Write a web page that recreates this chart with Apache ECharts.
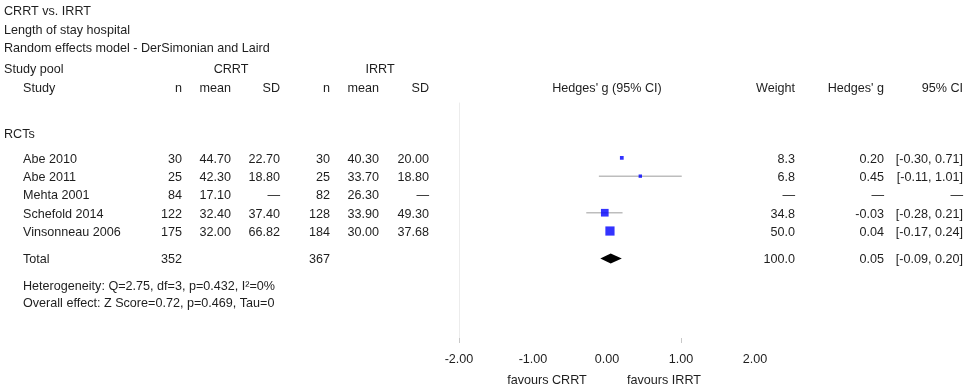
<!DOCTYPE html>
<html>
<head>
<meta charset="utf-8">
<script src="https://cdn.jsdelivr.net/npm/echarts@6/dist/echarts.min.js"></script>
<style>
html,body{margin:0;padding:0;background:#fff;}
#chart{width:968px;height:390px;}
</style>
</head>
<body>
<div id="chart"></div>
<script>
// ---- data ----
const titleLines = ['CRRT vs. IRRT', 'Length of stay hospital', 'Random effects model - DerSimonian and Laird'];
const groupLabel = 'RCTs';
const studies = ['Abe 2010', 'Abe 2011', 'Mehta 2001', 'Schefold 2014', 'Vinsonneau 2006'];
const crrtN = [30, 25, 84, 122, 175];
const crrtMean = ['44.70', '42.30', '17.10', '32.40', '32.00'];
const crrtSD = ['22.70', '18.80', '—', '37.40', '66.82'];
const irrtN = [30, 25, 82, 128, 184];
const irrtMean = ['40.30', '33.70', '26.30', '33.90', '30.00'];
const irrtSD = ['20.00', '18.80', '—', '49.30', '37.68'];
const weights = [8.3, 6.8, null, 34.8, 50.0];
const hedgesG = [0.20, 0.45, null, -0.03, 0.04];
const ciLow = [-0.30, -0.11, null, -0.28, -0.17];
const ciHigh = [0.71, 1.01, null, 0.21, 0.24];
const whiskerShown = [false, true, false, true, false];
const totalN = [352, 367];
const totalWeight = 100.0;
const totalG = 0.05;
const totalCI = [-0.09, 0.20];
const statLines = ['Heterogeneity: Q=2.75, df=3, p=0.432, I²=0%', 'Overall effect: Z Score=0.72, p=0.469, Tau=0'];
const xTickValues = [-2, -1, 0, 1, 2];
const favourLabels = ['favours CRRT', 'favours IRRT'];

// ---- layout ----
const FONT = '12.6px "Liberation Sans", Arial, sans-serif';
const TXT = '#1e1e1e';
const DY = 1.5;
const rowIdx = [0, 1, 2, 3, 4];
const totalRow = 5.5;

const chart = echarts.init(document.getElementById('chart'), null, {renderer: 'canvas'});

const whiskerData = [];
const squareData = [];
rowIdx.forEach(function (r, i) {
  if (hedgesG[i] === null) return;
  if (whiskerShown[i]) whiskerData.push([ciLow[i], ciHigh[i], r]);
  squareData.push([hedgesG[i], r, weights[i]]);
});

chart.setOption({
  animation: false,
  grid: {left: 459, width: 296, top: 103, height: 235, containLabel: false},
  xAxis: {
    type: 'value', min: xTickValues[0], max: xTickValues[xTickValues.length - 1], interval: 1,
    axisLine: {show: false, onZero: false},
    axisTick: {show: true, customValues: [-2, 1], length: 5, lineStyle: {color: '#c8c8c8'}},
    axisLabel: {margin: 15, color: TXT, fontSize: 12.6, fontFamily: '"Liberation Sans", Arial, sans-serif',
      formatter: function (v) { return v.toFixed(2); }},
    splitLine: {show: false}
  },
  yAxis: {
    type: 'value', inverse: true, min: -3, max: 9.85,
    axisLine: {show: true, onZero: false, lineStyle: {color: '#ececec', width: 1}},
    axisTick: {show: false}, axisLabel: {show: false}, splitLine: {show: false}
  },
  series: [
    {
      type: 'custom', data: whiskerData, encode: {x: [0, 1], y: 2},
      renderItem: function (params, api) {
        const p1 = api.coord([api.value(0), api.value(2)]);
        const p2 = api.coord([api.value(1), api.value(2)]);
        return {type: 'line', shape: {x1: p1[0], y1: p1[1], x2: p2[0], y2: p2[1]},
          style: {stroke: '#bdbdbd', lineWidth: 1.5}};
      },
      z: 2
    },
    {
      type: 'scatter', data: squareData, symbol: 'rect',
      symbolSize: function (v) { return 1.3 * Math.sqrt(v[2]); },
      itemStyle: {color: '#0000ff'}, z: 3
    },
    {
      type: 'custom', data: [[totalG, totalCI[0], totalCI[1], totalRow]], encode: {x: [0, 1, 2], y: 3},
      renderItem: function (params, api) {
        const c = api.coord([api.value(0), api.value(3)]);
        const l = api.coord([api.value(1), api.value(3)]);
        const r = api.coord([api.value(2), api.value(3)]);
        return {type: 'polygon', shape: {points: [[l[0], c[1]], [c[0], c[1] - 5], [r[0], c[1]], [c[0], c[1] + 5]]},
          style: {fill: '#000'}};
      },
      z: 3
    }
  ]
});

function rowY(r) { return chart.convertToPixel({gridIndex: 0}, [0, r])[1]; }
function t(text, x, y, align) {
  return {type: 'text', x: x, y: y + DY, silent: true,
    style: {text: String(text), font: FONT, fill: TXT, textAlign: align || 'left', textVerticalAlign: 'middle'}};
}

const els = [];
titleLines.forEach(function (s, i) { els.push(t(s, 4, [10, 29, 47][i])); });
els.push(t('Study pool', 4, 68));
els.push(t('CRRT', 231, 68, 'center'));
els.push(t('IRRT', 380, 68, 'center'));
els.push(t('Study', 23, 87));
els.push(t('n', 182, 87, 'right'));
els.push(t('mean', 231, 87, 'right'));
els.push(t('SD', 280, 87, 'right'));
els.push(t('n', 330, 87, 'right'));
els.push(t('mean', 379, 87, 'right'));
els.push(t('SD', 429, 87, 'right'));
els.push(t("Hedges' g (95% CI)", 607, 87, 'center'));
els.push(t('Weight', 795, 87, 'right'));
els.push(t("Hedges' g", 884, 87, 'right'));
els.push(t('95% CI', 963, 87, 'right'));
els.push(t(groupLabel, 4, 133));

rowIdx.forEach(function (r, i) {
  const y = rowY(r);
  els.push(t(studies[i], 23, y));
  els.push(t(crrtN[i], 182, y, 'right'));
  els.push(t(crrtMean[i], 231, y, 'right'));
  els.push(t(crrtSD[i], 280, y, 'right'));
  els.push(t(irrtN[i], 330, y, 'right'));
  els.push(t(irrtMean[i], 379, y, 'right'));
  els.push(t(irrtSD[i], 429, y, 'right'));
  if (hedgesG[i] === null) {
    els.push(t('—', 795, y, 'right'));
    els.push(t('—', 884, y, 'right'));
    els.push(t('—', 963, y, 'right'));
  } else {
    els.push(t(weights[i].toFixed(1), 795, y, 'right'));
    els.push(t(hedgesG[i].toFixed(2), 884, y, 'right'));
    els.push(t('[' + ciLow[i].toFixed(2) + ', ' + ciHigh[i].toFixed(2) + ']', 963, y, 'right'));
  }
});

const ty = rowY(totalRow);
els.push(t('Total', 23, ty));
els.push(t(totalN[0], 182, ty, 'right'));
els.push(t(totalN[1], 330, ty, 'right'));
els.push(t(totalWeight.toFixed(1), 795, ty, 'right'));
els.push(t(totalG.toFixed(2), 884, ty, 'right'));
els.push(t('[' + totalCI[0].toFixed(2) + ', ' + totalCI[1].toFixed(2) + ']', 963, ty, 'right'));

els.push(t(statLines[0], 23, 285));
els.push(t(statLines[1], 23, 302));

els.push(t(favourLabels[0], 547, 379, 'center'));
els.push(t(favourLabels[1], 664, 379, 'center'));

chart.setOption({graphic: {elements: els}});
</script>
</body>
</html>
